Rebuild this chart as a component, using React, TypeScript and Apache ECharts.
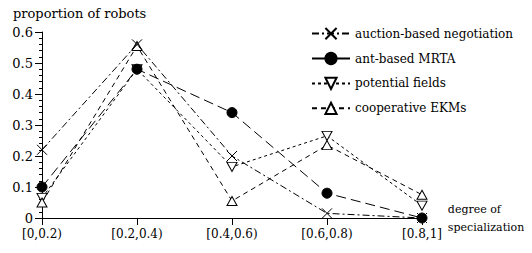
import React, { useEffect, useRef } from "react";
import * as echarts from "echarts";

const categories = ["[0,0.2)", "[0.2,0.4)", "[0.4,0.6)", "[0.6,0.8)", "[0.8,1]"];
const auctionValues = [0.22, 0.56, 0.2, 0.015, 0];
const antValues = [0.1, 0.48, 0.34, 0.08, 0];
const potentialValues = [0.065, 0.48, 0.165, 0.265, 0.04];
const ekmValues = [0.05, 0.555, 0.055, 0.235, 0.075];
const seriesNames = [
  "auction-based negotiation",
  "ant-based MRTA",
  "potential fields",
  "cooperative EKMs",
];
const yTicks = [0, 0.1, 0.2, 0.3, 0.4, 0.5, 0.6];

const FONT = "DejaVu Serif";

export default function App() {
  const ref = useRef<HTMLDivElement>(null);
  useEffect(() => {
    if (!ref.current) return;
    const chart = echarts.init(ref.current, null, { renderer: "svg" });
    const X_SYMBOL = "path://M0,0L10,10M10,0L0,10";
    const DOWN_TRI = "path://M0,0L10,0L5,10Z";
    const common = {
      type: "line",
      symbolKeepAspect: true,
    };
    chart.setOption({
      animation: false,
      backgroundColor: "#fff",
      textStyle: { fontFamily: FONT, color: "#000" },
      title: {
        text: "proportion of robots",
        left: 8,
        top: 2,
        textStyle: { fontFamily: FONT, fontSize: 13, fontWeight: "normal", color: "#000" },
      },
      legend: {
        orient: "vertical",
        left: 306,
        top: 22,
        itemWidth: 38,
        itemHeight: 14,
        itemGap: 11.7,
        textStyle: { fontFamily: FONT, fontSize: 12, color: "#000" },
        data: [
          { name: seriesNames[0] },
          { name: seriesNames[1], lineStyle: { type: "solid" } },
          { name: seriesNames[2] },
          { name: seriesNames[3] },
        ],
      },
      grid: { left: 42, right: 110, top: 32, bottom: 33, containLabel: false },
      xAxis: {
        type: "category",
        data: categories,
        boundaryGap: false,
        name: "degree of\nspecialization",
        nameLocation: "end",
        nameGap: 12,
        nameTextStyle: {
          fontFamily: FONT,
          fontSize: 11,
          color: "#000",
          align: "left",
          verticalAlign: "middle",
          lineHeight: 18,
          padding: [0, 0, 34, 0],
        },
        axisLine: { lineStyle: { color: "#000", width: 1 } },
        axisTick: { length: 7, lineStyle: { color: "#000" } },
        axisLabel: { fontFamily: FONT, fontSize: 12, color: "#000", margin: 10 },
        splitLine: { show: false },
      },
      yAxis: {
        type: "value",
        min: yTicks[0],
        max: yTicks[yTicks.length - 1],
        interval: 0.1,
        axisLine: { show: true, lineStyle: { color: "#000", width: 1 } },
        axisTick: { show: true, length: 7, lineStyle: { color: "#000" } },
        minorTick: { show: true, splitNumber: 5, length: 3, lineStyle: { color: "#000" } },
        axisLabel: { fontFamily: FONT, fontSize: 13, color: "#000", margin: 9 },
        splitLine: { show: false },
      },
      series: [
        {
          ...common,
          name: seriesNames[0],
          data: auctionValues,
          symbol: X_SYMBOL,
          symbolSize: 10,
          lineStyle: { color: "#000", width: 1, type: [7, 3, 2, 3] },
          itemStyle: { color: "rgba(0,0,0,0)", borderColor: "#000", borderWidth: 1 },
          z: 4,
        },
        {
          ...common,
          name: seriesNames[1],
          data: antValues,
          symbol: "circle",
          symbolSize: 10,
          lineStyle: { color: "#000", width: 1, type: [10, 5] },
          itemStyle: { color: "#000", borderColor: "#000", borderWidth: 1 },
          z: 3,
        },
        {
          ...common,
          name: seriesNames[2],
          data: potentialValues,
          symbol: DOWN_TRI,
          symbolSize: [10, 9],
          lineStyle: { color: "#000", width: 1, type: [3, 3] },
          itemStyle: { color: "#fff", borderColor: "#000", borderWidth: 1 },
          z: 2,
        },
        {
          ...common,
          name: seriesNames[3],
          data: ekmValues,
          symbol: "triangle",
          symbolSize: [10, 9],
          lineStyle: { color: "#000", width: 1, type: [5, 4] },
          itemStyle: { color: "#fff", borderColor: "#000", borderWidth: 1 },
          z: 2,
        },
      ],
    });
    return () => chart.dispose();
  }, []);
  return <div ref={ref} style={{ width: 532, height: 253, margin: -8 }} />;
}
